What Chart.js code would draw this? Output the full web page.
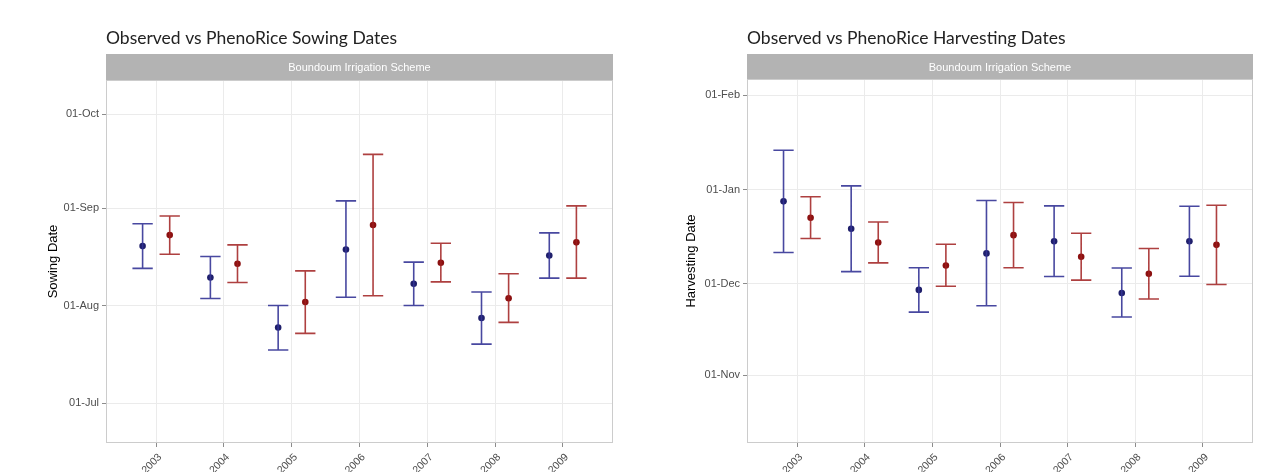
<!DOCTYPE html>
<html>
<head>
<meta charset="utf-8">
<script src="https://cdn.jsdelivr.net/npm/chart.js@4.4.1/dist/chart.umd.min.js"></script>
<style>
  body { margin: 0; background: #fff; }
  .box { position: absolute; top: 0; }
</style>
</head>
<body>
<div class="box" style="left:0"><canvas id="sowing" width="642" height="472"></canvas></div>
<div class="box" style="left:642px"><canvas id="harvest" width="643" height="472"></canvas></div>
<script>
// categories
var years = ['2003', '2004', '2005', '2006', '2007', '2008', '2009'];

// sowing dates, day of year
var sowTicks = [182, 213, 244, 274];
var sowTickLabels = ['01-Jul', '01-Aug', '01-Sep', '01-Oct'];
var sowObsMean = [232.0, 222.0, 206.1, 230.9, 220.0, 209.1, 229.0];
var sowObsLow = [224.9, 215.3, 198.9, 215.7, 213.1, 200.8, 221.8];
var sowObsHigh = [239.1, 228.7, 213.1, 246.4, 226.9, 217.4, 236.2];
var sowPrMean = [235.5, 226.4, 214.2, 238.7, 226.7, 215.4, 233.2];
var sowPrLow = [229.4, 220.4, 204.2, 216.2, 220.6, 207.7, 221.8];
var sowPrHigh = [241.6, 232.4, 224.1, 261.2, 232.9, 223.2, 244.8];

// harvesting dates, day counted from 1 Jan of sowing year (Jan next year = 366+)
var harvTicks = [305, 335, 366, 397];
var harvTickLabels = ['01-Nov', '01-Dec', '01-Jan', '01-Feb'];
var harvObsMean = [362.1, 353.1, 333.0, 345.0, 349.0, 332.0, 349.0];
var harvObsLow = [345.3, 339.0, 325.7, 327.8, 337.4, 324.1, 337.5];
var harvObsHigh = [378.9, 367.2, 340.3, 362.4, 360.6, 340.2, 360.5];
var harvPrMean = [356.7, 348.6, 341.0, 351.0, 343.9, 338.3, 347.8];
var harvPrLow = [349.9, 341.9, 334.2, 340.3, 336.2, 330.0, 334.8];
var harvPrHigh = [363.6, 355.3, 348.0, 361.7, 351.6, 346.6, 360.8];

var OFFSET = 0.2;
var CAP = 0.15;

// whisker path for one series, gaps split the segments
function whiskers(low, high, off) {
  var pts = [];
  for (var i = 0; i < low.length; i++) {
    var x = i + off;
    pts.push({x: x - CAP, y: high[i]}, {x: x + CAP, y: high[i]}, {x: x, y: null});
    pts.push({x: x, y: high[i]}, {x: x, y: low[i]}, {x: x, y: null});
    pts.push({x: x - CAP, y: low[i]}, {x: x + CAP, y: low[i]}, {x: x, y: null});
  }
  return pts;
}

function means(vals, off) {
  return vals.map(function (v, i) { return {x: i + off, y: v}; });
}

var panelPlugin = {
  id: 'panel',
  afterDraw: function (chart, args, opts) {
    var ctx = chart.ctx;
    var a = chart.chartArea;
    ctx.save();
    // facet strip
    ctx.fillStyle = '#b3b3b3';
    ctx.fillRect(a.left, opts.stripTop, a.right - a.left, a.top - opts.stripTop);
    ctx.fillStyle = '#ffffff';
    ctx.font = '11px "Liberation Sans", Arial, sans-serif';
    ctx.textAlign = 'center';
    ctx.textBaseline = 'middle';
    ctx.fillText('Boundoum Irrigation Scheme', (a.left + a.right) / 2, (opts.stripTop + a.top) / 2 + 1);
    // panel border
    ctx.strokeStyle = '#cccccc';
    ctx.lineWidth = 1;
    ctx.strokeRect(a.left + 0.5, a.top + 0.5, a.right - a.left - 1, a.bottom - a.top - 1);
    // title
    ctx.fillStyle = '#222222';
    ctx.font = '17.5px Lato, "Liberation Sans", sans-serif';
    ctx.textAlign = 'left';
    ctx.textBaseline = 'alphabetic';
    ctx.fillText(opts.title, a.left, 44);
    ctx.restore();
  }
};

function makeChart(id, cfg) {
  var ctx = document.getElementById(id).getContext('2d');
  return new Chart(ctx, {
    type: 'scatter',
    data: {
      datasets: [
        {data: whiskers(cfg.obsLow, cfg.obsHigh, -OFFSET), showLine: true, spanGaps: false,
          borderColor: 'rgba(52, 52, 150, 0.9)', borderWidth: 1.6, pointRadius: 0},
        {data: whiskers(cfg.prLow, cfg.prHigh, OFFSET), showLine: true, spanGaps: false,
          borderColor: 'rgba(160, 30, 30, 0.85)', borderWidth: 1.6, pointRadius: 0},
        {data: means(cfg.obsMean, -OFFSET), pointRadius: 3.3, backgroundColor: '#1f1f6b',
          borderColor: '#1f1f6b', borderWidth: 0},
        {data: means(cfg.prMean, OFFSET), pointRadius: 3.3, backgroundColor: '#8b1010',
          borderColor: '#8b1010', borderWidth: 0}
      ]
    },
    options: {
      responsive: false,
      animation: false,
      devicePixelRatio: 1,
      layout: {padding: {top: cfg.top, right: cfg.right, bottom: 0, left: 0}},
      plugins: {
        legend: {display: false},
        tooltip: {enabled: false},
        panel: {title: cfg.title, stripTop: 54}
      },
      scales: {
        x: {
          type: 'linear',
          min: -0.74,
          max: 6.74,
          afterBuildTicks: function (scale) {
            scale.ticks = years.map(function (y, i) { return {value: i}; });
          },
          afterFit: function (scale) { scale.height = 29; },
          grid: {color: '#ebebeb', lineWidth: 1, tickLength: 4, tickColor: '#8c8c8c'},
          border: {display: false},
          ticks: {
            minRotation: 45,
            maxRotation: 45,
            padding: 4,
            labelOffset: 4,
            color: '#4d4d4d',
            font: {family: '"Liberation Sans", Arial, sans-serif', size: 10.5},
            callback: function (v) { return years[v]; }
          }
        },
        y: {
          type: 'linear',
          min: cfg.yMin,
          max: cfg.yMax,
          afterBuildTicks: function (scale) {
            scale.ticks = cfg.ticks.map(function (v) { return {value: v}; });
          },
          afterFit: function (scale) { scale.width = cfg.left; },
          grid: {color: '#ebebeb', lineWidth: 1, tickLength: 4, tickColor: '#8c8c8c'},
          border: {display: false},
          title: {
            display: true,
            text: cfg.yTitle,
            color: '#000',
            font: {family: '"Liberation Sans", Arial, sans-serif', size: 13},
            padding: {top: cfg.titlePad, bottom: 0}
          },
          ticks: {
            padding: 3,
            color: '#4d4d4d',
            font: {family: '"Liberation Sans", Arial, sans-serif', size: 11},
            callback: function (v) {
              var k = cfg.ticks.indexOf(v);
              return k >= 0 ? cfg.tickLabels[k] : '';
            }
          }
        }
      }
    },
    plugins: [panelPlugin]
  });
}

makeChart('sowing', {
  title: 'Observed vs PhenoRice Sowing Dates',
  yTitle: 'Sowing Date',
  obsMean: sowObsMean, obsLow: sowObsLow, obsHigh: sowObsHigh,
  prMean: sowPrMean, prLow: sowPrLow, prHigh: sowPrHigh,
  ticks: sowTicks, tickLabels: sowTickLabels,
  yMin: 169.3, yMax: 284.9,
  top: 80, right: 29, left: 106, titlePad: 46
});

makeChart('harvest', {
  title: 'Observed vs PhenoRice Harvesting Dates',
  yTitle: 'Harvesting Date',
  obsMean: harvObsMean, obsLow: harvObsLow, obsHigh: harvObsHigh,
  prMean: harvPrMean, prLow: harvPrLow, prHigh: harvPrHigh,
  ticks: harvTicks, tickLabels: harvTickLabels,
  yMin: 282.7, yMax: 402.3,
  top: 79, right: 32, left: 105, titlePad: 42
});
</script>
</body>
</html>
